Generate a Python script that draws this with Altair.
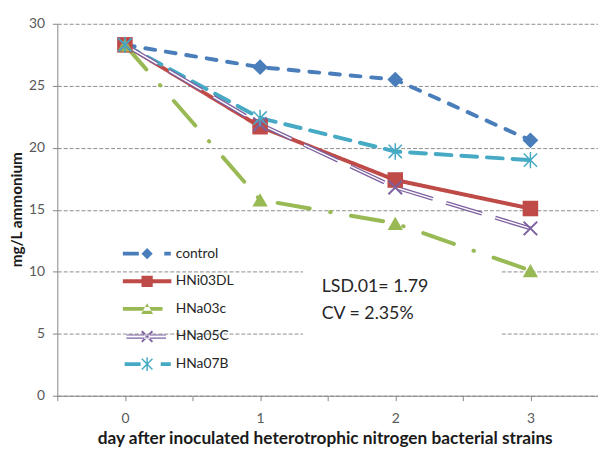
import math
import altair as alt
import pandas as pd

# ---- data ----
days = [0, 1, 2, 3]
series_names = ["control", "HNi03DL", "HNa03c", "HNa05C", "HNa07B"]
control = [28.3, 26.5, 25.5, 20.6]
hni03dl = [28.3, 21.7, 17.4, 15.1]
hna03c = [28.3, 15.8, 13.9, 10.1]
hna05c = [28.3, 21.9, 16.8, 13.5]
hna07b = [28.3, 22.4, 19.7, 19.0]
y_ticks = [0, 5, 10, 15, 20, 25, 30]
x_ticks = [-0.5, 0, 0.5, 1, 1.5, 2, 2.5, 3, 3.5]
note_lines = ["LSD.01= 1.79", "CV = 2.35%"]

# ---- styles ----
colors = ["#4A7EBB", "#BE4B48", "#98B954", "#7D60A0", "#46AAC5"]
dashes = [[10, 11], [1, 0], [33, 21, 0.5, 21], [38, 14], [16, 10]]
X_PATH = "M-0.9,-0.9L0.9,0.9M-0.9,0.9L0.9,-0.9"
STAR_PATH = "M-0.9,-0.9L0.9,0.9M-0.9,0.9L0.9,-0.9M0,-1.1L0,1.1"
marker_shapes = ["diamond", "square", "triangle-up", X_PATH, STAR_PATH]
marker_sizes = [256, 225, 256, 225, 256]


def bar(x0, x1, y0=-0.33, y1=0.33):
    return f"M{x0},{y0}H{x1}V{y1}H{x0}Z"


def seg(x0, y0, x1, y1, w):
    dx, dy = x1 - x0, y1 - y0
    n = math.hypot(dx, dy)
    nx, ny = -dy / n * w, dx / n * w
    return (f"M{x0 + nx:.3f},{y0 + ny:.3f}L{x1 + nx:.3f},{y1 + ny:.3f}"
            f"L{x1 - nx:.3f},{y1 - ny:.3f}L{x0 - nx:.3f},{y0 - ny:.3f}Z")


legend_x = seg(-0.9, -0.9, 0.9, 0.9, 0.16) + seg(-0.9, 0.9, 0.9, -0.9, 0.16)
legend_star = (seg(-0.9, -0.9, 0.9, 0.9, 0.12) + seg(-0.9, 0.9, 0.9, -0.9, 0.12)
               + seg(0, -1.15, 0, 1.15, 0.12))
legend_paths = [
    bar(-4.1, -1.4) + "M0,-0.95L0.95,0L0,0.95L-0.95,0Z" + bar(2.9, 4.0),
    bar(-4.1, 4.1) + "M-0.95,-0.95H0.95V0.95H-0.95Z",
    bar(-4.1, 2.6) + "M-1,0.85L1,0.85L0,-0.95Z",
    bar(-3.5, 3.2, -0.36, -0.17) + bar(-3.5, 3.2, 0.17, 0.36) + legend_x,
    bar(-3.8, -1.1) + legend_star + bar(2.3, 4.0),
]

rows = []
for name, vals in zip(series_names, [control, hni03dl, hna03c, hna05c, hna07b]):
    for d, v in zip(days, vals):
        rows.append({"series": name, "day": d, "value": v})
df = pd.DataFrame(rows)

note_df = pd.DataFrame({"text": note_lines, "day": [1.456, 1.456], "value": [8.75, 6.6]})
box_df = pd.DataFrame({"day": [1.318], "day2": [2.78], "value": [3.8], "value2": [10.8]})

FONT = "Lato"

x_enc = alt.X(
    "day:Q",
    scale=alt.Scale(domain=[-0.5, 3.5], nice=False, zero=False),
    axis=alt.Axis(
        values=x_ticks,
        labelExpr="datum.value % 1 == 0 ? format(datum.value, 'd') : ''",
        grid=False,
        title="day after inoculated heterotrophic nitrogen bacterial strains",
        titleX=271,
        titleY=43,
        titleBaseline="middle",
        titleFontSize=17.5,
        labelPadding=11,
        tickSize=5,
        labelFlush=False,
    ),
)
y_enc = alt.Y(
    "value:Q",
    scale=alt.Scale(domain=[0, 30], nice=False),
    axis=alt.Axis(
        values=y_ticks,
        grid=True,
        gridDash=[4, 2],
        gridColor="#8C8C8C",
        title="mg/L ammonium",
        titleX=-41,
        titleY=188,
        titleBaseline="middle",
        titleFontSize=15.5,
        labelPadding=8,
        tickSize=5,
    ),
)


def color_enc(legend=None):
    return alt.Color("series:N", scale=alt.Scale(domain=series_names, range=colors), legend=legend)


box = alt.Chart(box_df).mark_rect(color="white").encode(
    x=x_enc, x2="day2:Q", y=y_enc, y2="value2:Q"
)

main_lines = (
    alt.Chart(df)
    .transform_filter(alt.FieldOneOfPredicate(field="series", oneOf=["control", "HNi03DL", "HNa03c", "HNa07B"]))
    .mark_line(strokeWidth=4, strokeCap="round", strokeJoin="round")
    .encode(
        x=x_enc,
        y=y_enc,
        color=color_enc(),
        strokeDash=alt.StrokeDash("series:N", scale=alt.Scale(domain=series_names, range=dashes), legend=None),
        detail="series:N",
    )
)

purple = (
    alt.Chart(df)
    .transform_filter(alt.datum.series == "HNa05C")
    .mark_line(strokeWidth=4, strokeDash=[38, 14])
    .encode(x=x_enc, y=y_enc, color=color_enc())
)
purple_gap = (
    alt.Chart(df)
    .transform_filter(alt.datum.series == "HNa05C")
    .mark_line(strokeWidth=1.4, strokeDash=[38, 14], color="white")
    .encode(x=x_enc, y=y_enc)
)

shape_enc = alt.Shape("series:N", scale=alt.Scale(domain=series_names, range=marker_shapes), legend=None)
size_enc = alt.Size("series:N", scale=alt.Scale(domain=series_names, range=marker_sizes), legend=None)

filled_pts = (
    alt.Chart(df)
    .transform_filter(alt.FieldOneOfPredicate(field="series", oneOf=["control", "HNi03DL", "HNa03c"]))
    .mark_point(filled=True, opacity=1)
    .encode(x=x_enc, y=y_enc, color=color_enc(), shape=shape_enc, size=size_enc)
)
x_pts = (
    alt.Chart(df)
    .transform_filter(alt.datum.series == "HNa05C")
    .mark_point(filled=False, opacity=1, strokeWidth=2)
    .encode(x=x_enc, y=y_enc, color=color_enc(), shape=shape_enc, size=size_enc)
)
star_pts = (
    alt.Chart(df)
    .transform_filter(alt.datum.series == "HNa07B")
    .mark_point(filled=False, opacity=1, strokeWidth=1.5)
    .encode(x=x_enc, y=y_enc, color=color_enc(), shape=shape_enc, size=size_enc)
)

leg = alt.Legend(
    orient="none",
    legendX=84,
    legendY=226,
    title=None,
    padding=0,
    symbolSize=144,
    symbolStrokeWidth=0,
    symbolOpacity=1,
    labelOffset=22,
    rowPadding=14,
    labelFont=FONT,
    labelFontSize=14,
    labelColor="#262626",
)
legend_layer = (
    alt.Chart(df)
    .transform_filter("false")
    .mark_point(filled=True, opacity=1, size=144)
    .encode(
        x=x_enc,
        y=y_enc,
        color=color_enc(leg),
        shape=alt.Shape("series:N", scale=alt.Scale(domain=series_names, range=legend_paths), legend=leg),
    )
)

notes = alt.Chart(note_df).mark_text(
    align="left", baseline="middle", font=FONT, fontSize=18, color="#262626"
).encode(x=x_enc, y=y_enc, text="text:N")

chart = (
    alt.layer(box, main_lines, purple, purple_gap, filled_pts, x_pts, star_pts, legend_layer, notes)
    .resolve_scale(shape="independent", size="independent", color="independent")
    .properties(
        width=548,
        height=377,
        autosize=alt.AutoSizeParams(type="none"),
        padding={"left": 50, "top": 13, "right": 0, "bottom": 52},
    )
    .configure_view(stroke=None)
    .configure_axis(
        labelFont=FONT,
        labelFontSize=14,
        labelColor="#595959",
        titleFont=FONT,
        titleFontWeight="bold",
        titleColor="#1a1a1a",
        domainColor="#868686",
        tickColor="#868686",
        domainWidth=1,
    )
)

chart.save("out.html", embed_options={"renderer": "svg", "actions": False})
